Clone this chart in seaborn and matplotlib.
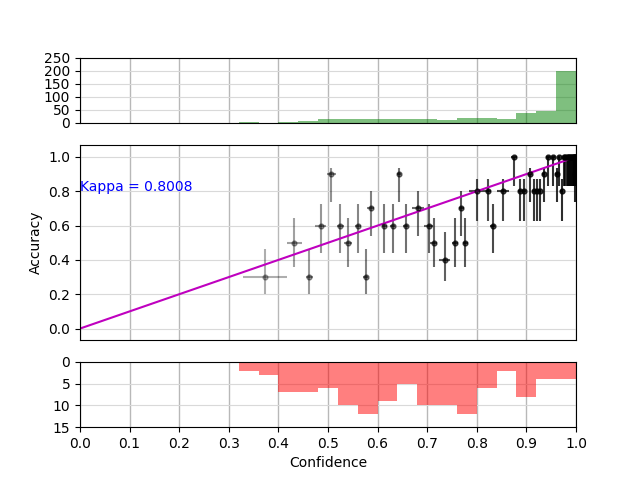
import numpy as np
import pandas as pd
import matplotlib
matplotlib.use("Agg")
import matplotlib.pyplot as plt
import seaborn as sns

# ---------------- data ----------------
BIN_EDGES = [i * 0.04 for i in range(26)]
BIN_CENTERS = [0.02 + i * 0.04 for i in range(25)]
TOP_COUNTS = [0, 0, 0, 0, 0, 0, 0, 0, 3, 0, 3, 7, 15, 15, 15, 15, 15, 15,
              10, 19, 19, 14, 38, 46, 197]
BOTTOM_COUNTS = [0, 0, 0, 0, 0, 0, 0, 0, 2, 3, 7, 7, 6, 10, 12, 9, 5, 10,
                 10, 12, 6, 2, 8, 4, 4]

CONF = [0.373, 0.432, 0.462, 0.485, 0.507, 0.525, 0.541, 0.560, 0.576, 0.586,
        0.613, 0.631, 0.643, 0.657, 0.681, 0.703, 0.713, 0.735, 0.757, 0.769,
        0.777, 0.800, 0.822, 0.832, 0.853, 0.875, 0.887, 0.895, 0.907, 0.915,
        0.921, 0.927, 0.935, 0.944, 0.954, 0.961, 0.966, 0.971, 0.975, 0.978,
        0.981, 0.984, 0.986, 0.988, 0.990, 0.992, 0.994, 0.995, 0.996, 0.997,
        0.998, 0.999, 0.998]
ACC = [0.3, 0.5, 0.3, 0.6, 0.9, 0.6, 0.5, 0.6, 0.3, 0.7,
       0.6, 0.6, 0.9, 0.6, 0.7, 0.6, 0.5, 0.4, 0.5, 0.7,
       0.5, 0.8, 0.8, 0.6, 0.8, 1.0, 0.8, 0.8, 0.9, 0.8,
       0.8, 0.8, 0.9, 1.0, 1.0, 0.9, 1.0, 0.8, 1.0, 1.0,
       1.0, 1.0, 1.0, 1.0, 1.0, 1.0, 1.0, 1.0, 1.0, 1.0,
       1.0, 1.0, 0.9]
XERR = [0.045, 0.015, 0.007, 0.011, 0.009, 0.007, 0.008, 0.006, 0.005, 0.007,
        0.005, 0.005, 0.004, 0.005, 0.012, 0.009, 0.007, 0.011, 0.006, 0.005,
        0.005, 0.016, 0.006, 0.005, 0.012, 0.006, 0.004, 0.004, 0.004, 0.003,
        0.003, 0.003, 0.003, 0.004, 0.003, 0.003, 0.002, 0.003, 0.002, 0.002,
        0.002, 0.002, 0.002, 0.002, 0.002, 0.002, 0.002, 0.002, 0.002, 0.002,
        0.001, 0.001, 0.001]
ACC_LEVELS = [0.3, 0.4, 0.5, 0.6, 0.7, 0.8, 0.9, 1.0]
ERR_LOW = [0.098, 0.123, 0.140, 0.158, 0.160, 0.173, 0.163, 0.168]
ERR_HIGH = [0.162, 0.161, 0.145, 0.127, 0.100, 0.073, 0.036, 0.0]

LINE_X = [0.0, 0.985]
KAPPA_TEXT = "Kappa = 0.8008"

# ---------------- figure ----------------
fig = plt.figure(figsize=(6.4, 4.8), dpi=100)
gs = fig.add_gridspec(3, 1, height_ratios=[1, 3, 1], hspace=0.2)
ax_top = fig.add_subplot(gs[0])
ax_mid = fig.add_subplot(gs[1])
ax_bot = fig.add_subplot(gs[2])


def style_grid(ax):
    ax.set_axisbelow(True)
    ax.grid(axis="x", color="#b8b8b8", linewidth=1.0)
    ax.grid(axis="y", color="#d9d9d9", linewidth=0.8)


# top histogram
top_df = pd.DataFrame({"c": BIN_CENTERS, "n": TOP_COUNTS})
sns.histplot(data=top_df, x="c", weights="n", bins=BIN_EDGES, color="g",
             alpha=0.5, linewidth=0, ax=ax_top)
ax_top.set_xlim(0, 1)
ax_top.set_ylim(0, 250)
ax_top.set_yticks([0, 50, 100, 150, 200, 250])
ax_top.set_xticks([i / 10 for i in range(11)])
ax_top.tick_params(axis="x", bottom=False, labelbottom=False)
ax_top.set_xlabel("")
ax_top.set_ylabel("")
style_grid(ax_top)

# middle: calibration points
for c, a, xe in zip(CONF, ACC, XERR):
    k = ACC_LEVELS.index(a)
    ax_mid.errorbar([c], [a], xerr=[[xe], [xe]],
                    yerr=[[ERR_LOW[k]], [ERR_HIGH[k]]],
                    fmt="o", color="k", markersize=3.5, elinewidth=1.5,
                    alpha=min(1.0, 0.85 * c))
ax_mid.plot(LINE_X, LINE_X, color="m", linewidth=1.5)
ax_mid.text(0.0, 0.8, KAPPA_TEXT, color="blue", fontsize=10)
ax_mid.set_xlim(0, 1)
ax_mid.set_ylim(-0.068, 1.072)
ax_mid.set_yticks([0.0, 0.2, 0.4, 0.6, 0.8, 1.0])
ax_mid.set_xticks([i / 10 for i in range(11)])
ax_mid.tick_params(axis="x", bottom=False, labelbottom=False)
ax_mid.set_ylabel("Accuracy")
style_grid(ax_mid)

# bottom histogram (inverted)
bot_df = pd.DataFrame({"c": BIN_CENTERS, "n": BOTTOM_COUNTS})
sns.histplot(data=bot_df, x="c", weights="n", bins=BIN_EDGES, color="r",
             alpha=0.5, linewidth=0, ax=ax_bot)
ax_bot.set_xlim(0, 1)
ax_bot.set_ylim(15, 0)
ax_bot.set_yticks([0, 5, 10, 15])
ax_bot.set_xticks([i / 10 for i in range(11)])
ax_bot.set_xlabel("Confidence")
ax_bot.set_ylabel("")
style_grid(ax_bot)

fig.savefig("out.png", dpi=100)
